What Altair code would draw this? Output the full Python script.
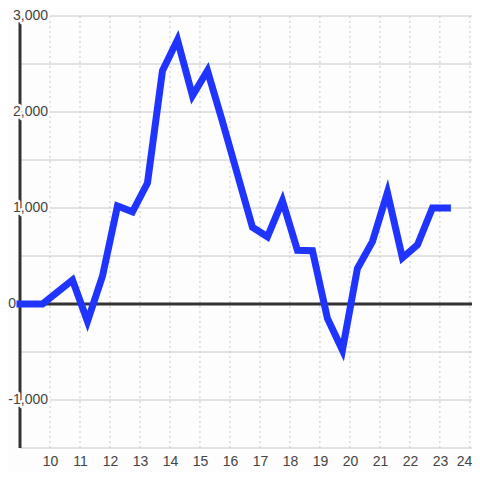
import altair as alt
import pandas as pd

# ---- data ----
x_vals = [9.0, 9.75, 10.25, 10.75, 11.25, 11.75, 12.25, 12.75, 13.25, 13.75,
          14.25, 14.75, 15.25, 15.75, 16.25, 16.75, 17.25, 17.75, 18.25, 18.75,
          19.25, 19.75, 20.25, 20.75, 21.25, 21.75, 22.25, 22.75, 23.25]
y_vals = [0, 0, 125, 250, -180, 290, 1020, 960, 1260, 2430,
          2750, 2170, 2430, 1900, 1350, 800, 700, 1075, 560, 555,
          -150, -480, 370, 650, 1160, 480, 615, 1000, 1000]

x_ticks = list(range(10, 25))
y_grid = [-1500, -1000, -500, 0, 500, 1000, 1500, 2000, 2500, 3000]
y_label_vals = [3000, 2000, 1000, -1000]
y_label_text = ["3,000", "2,000", "1,000", "-1,000"]
zero_label_val = [0]
zero_label_text = ["0"]

XMIN, XMAX = 9, 24.07
YMIN, YMAX = -1500, 3000

BG = "#fdfdfd"
GRID = "#c8c8c8"
DARK = "#333333"
LABEL = "#444444"
BLUE = "#1f35ff"
FONT = "Liberation Sans"

xs = alt.Scale(domain=[XMIN, XMAX], nice=False, zero=False)
ys = alt.Scale(domain=[YMIN, YMAX], nice=False, zero=False)
x_axis = alt.Axis(
    values=x_ticks, domain=False, ticks=False, grid=False, title="",
    labelFontSize=14, labelFont=FONT, labelColor=LABEL, labelPadding=6,
    format="d", labelFlush=False, labelOverlap=False,
    labelAlign=alt.expr("datum.value == 24 ? 'right' : 'center'"),
    labelOffset=alt.expr("datum.value == 24 ? 2 : 0"),
)

line_df = pd.DataFrame({"x": x_vals, "y": y_vals})
one = pd.DataFrame({"a": [0]})
lab_df = pd.DataFrame({"v": y_label_vals, "s": y_label_text})
zlab_df = pd.DataFrame({"v": zero_label_val, "s": zero_label_text})


def xd(v):
    return alt.XDatum(v, type="quantitative", scale=xs, axis=x_axis)


def yd(v):
    return alt.YDatum(v, type="quantitative", scale=ys, axis=None)


hgrid = alt.Chart(pd.DataFrame({"g": y_grid})).mark_rule(color=GRID, strokeWidth=1).encode(
    y=alt.Y("g:Q", scale=ys, axis=None),
    x=xd(XMIN),
    x2=alt.X2Datum(XMAX),
)

vgrid = alt.Chart(pd.DataFrame({"t": x_ticks})).mark_rule(
    color=GRID, strokeWidth=1, strokeDash=[2, 3]
).encode(
    x=alt.X("t:Q", scale=xs, axis=x_axis),
    y=yd(YMIN),
    y2=alt.Y2Datum(YMAX),
)

zero_line = alt.Chart(one).mark_rule(color=DARK, strokeWidth=3).encode(
    y=yd(0),
    x=xd(XMIN),
    x2=alt.X2Datum(XMAX),
)

y_axis_line = alt.Chart(one).mark_rule(color=DARK, strokeWidth=3).encode(
    x=xd(XMIN),
    y=yd(YMIN),
    y2=alt.Y2Datum(YMAX),
)

label_mask = alt.Chart(lab_df).mark_text(
    align="right", baseline="middle", dx=28, fontSize=14, font=FONT,
    fill=BG, stroke=BG, strokeWidth=5, strokeJoin="round",
).encode(
    x=xd(XMIN),
    y=alt.Y("v:Q", scale=ys, axis=None),
    text="s:N",
)

labels = alt.Chart(lab_df).mark_text(
    align="right", baseline="middle", dx=28, fontSize=14, font=FONT, fill=LABEL,
).encode(
    x=xd(XMIN),
    y=alt.Y("v:Q", scale=ys, axis=None),
    text="s:N",
)

zero_lab = alt.Chart(zlab_df).mark_text(
    align="right", baseline="middle", dx=-4, fontSize=14, font=FONT, fill=LABEL,
).encode(
    x=xd(XMIN),
    y=alt.Y("v:Q", scale=ys, axis=None),
    text="s:N",
)

line = alt.Chart(line_df).mark_line(
    color=BLUE, strokeWidth=7, strokeCap="square", strokeJoin="miter"
).encode(
    x=alt.X("x:Q", scale=xs, axis=x_axis),
    y=alt.Y("y:Q", scale=ys, axis=None),
)

chart = alt.layer(
    hgrid, vgrid, zero_line, y_axis_line, label_mask, labels, zero_lab, line
).properties(
    width=452, height=432, autosize="none",
    padding={"left": 12, "top": 8, "right": 0, "bottom": 24},
    background=BG,
).configure_view(stroke=None)

chart.save("out.html", embed_options={"renderer": "svg", "actions": False})
